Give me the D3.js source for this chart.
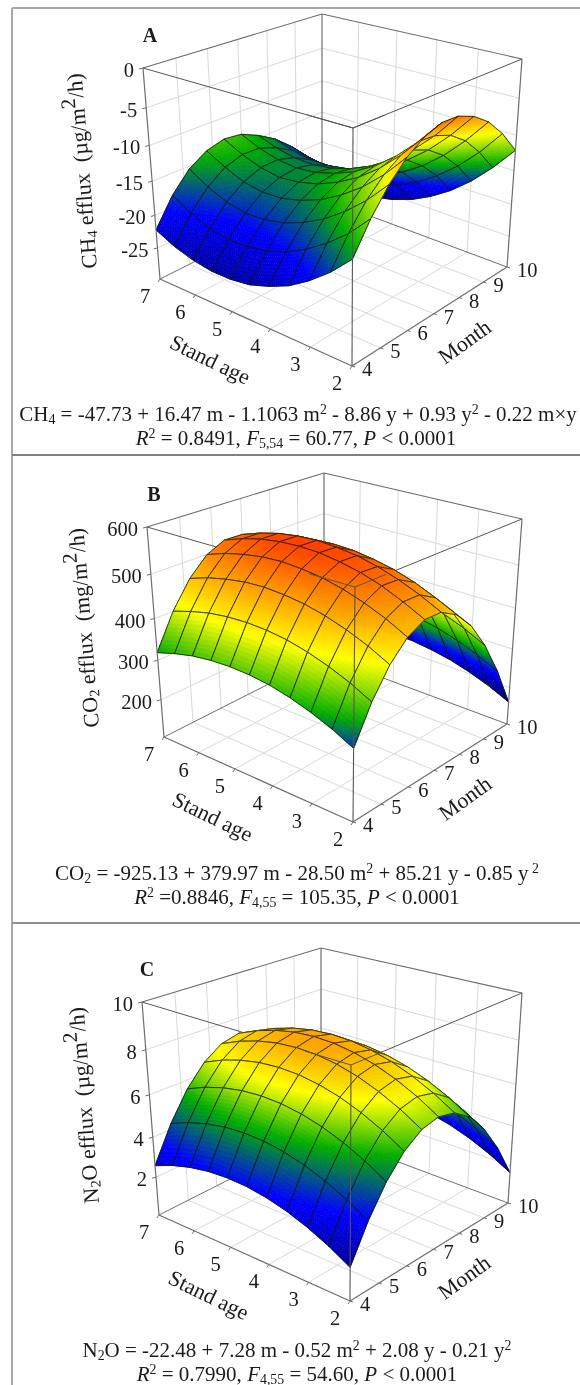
<!DOCTYPE html>
<html>
<head>
<meta charset="utf-8">
<script src="https://cdnjs.cloudflare.com/ajax/libs/d3/7.8.5/d3.min.js"></script>
<style>
  html, body { margin: 0; padding: 0; background: #fff; }
  text { font-family: "Liberation Serif", "Times New Roman", serif; fill: #1a1a1a; }
</style>
</head>
<body>
<script>
// Grid of the surfaces, rows follow standAges, columns follow months.
const standAges = [2, 2.5, 3, 3.5, 4, 4.5, 5, 5.5, 6, 6.5, 7];
const months = [4, 4.6, 5.2, 5.8, 6.4, 7, 7.6, 8.2, 8.8, 9.4, 10];

const ch4Efflux = [
  [-15.3, -11.4, -8.3, -6.0, -4.5, -3.7, -3.8, -4.7, -6.3, -8.8, -12.1],
  [-18.1, -14.3, -11.2, -9.0, -7.5, -6.8, -7.0, -7.9, -9.6, -12.2, -15.5],
  [-20.4, -16.6, -13.6, -11.5, -10.1, -9.5, -9.7, -10.7, -12.5, -15.1, -18.5],
  [-22.3, -18.5, -15.6, -13.5, -12.2, -11.7, -11.9, -13.0, -14.9, -17.5, -21.0],
  [-23.6, -20.0, -17.1, -15.1, -13.8, -13.4, -13.7, -14.9, -16.8, -19.5, -23.0],
  [-24.6, -21.0, -18.2, -16.2, -15.0, -14.6, -15.0, -16.2, -18.2, -21.0, -24.6],
  [-25.0, -21.5, -18.8, -16.9, -15.7, -15.4, -15.9, -17.1, -19.2, -22.1, -25.7],
  [-25.0, -21.6, -18.9, -17.0, -16.0, -15.7, -16.3, -17.6, -19.7, -22.6, -26.4],
  [-24.5, -21.1, -18.3, -16.5, -15.5, -15.4, -16.2, -17.6, -19.8, -22.8, -26.5],
  [-23.6, -19.8, -17.1, -15.3, -14.5, -14.6, -15.6, -17.1, -19.3, -22.4, -26.3],
  [-22.2, -18.2, -15.4, -13.8, -13.1, -13.4, -14.6, -16.2, -18.5, -21.6, -25.5]
];

const co2Efflux = [
  [275, 356, 416, 456, 476, 475, 453, 411, 348, 265, 161],
  [299, 380, 440, 480, 499, 498, 476, 434, 372, 288, 185],
  [318, 399, 459, 499, 519, 517, 496, 453, 391, 308, 204],
  [333, 414, 474, 514, 534, 532, 511, 468, 406, 323, 219],
  [344, 425, 485, 525, 544, 543, 521, 479, 416, 333, 229],
  [350, 431, 491, 531, 551, 549, 528, 486, 423, 340, 236],
  [352, 433, 494, 534, 553, 552, 530, 488, 425, 342, 238],
  [350, 431, 492, 532, 551, 550, 528, 486, 423, 340, 236],
  [344, 425, 485, 525, 545, 544, 522, 480, 417, 334, 230],
  [333, 414, 475, 515, 534, 533, 511, 469, 406, 323, 219],
  [319, 400, 460, 500, 519, 518, 497, 454, 392, 308, 205]
];

const n2oEfflux = [
  [1.64, 3.33, 4.64, 5.57, 6.13, 6.32, 6.13, 5.58, 4.63, 3.32, 1.64],
  [2.21, 3.90, 5.21, 6.14, 6.70, 6.89, 6.70, 6.15, 5.20, 3.89, 2.21],
  [2.67, 4.36, 5.67, 6.60, 7.16, 7.35, 7.16, 6.61, 5.66, 4.35, 2.67],
  [3.03, 4.72, 6.03, 6.96, 7.52, 7.71, 7.52, 6.97, 6.02, 4.71, 3.03],
  [3.28, 4.97, 6.28, 7.21, 7.77, 7.96, 7.77, 7.22, 6.27, 4.96, 3.28],
  [3.43, 5.12, 6.43, 7.36, 7.92, 8.11, 7.92, 7.37, 6.42, 5.11, 3.43],
  [3.47, 5.16, 6.47, 7.40, 7.96, 8.15, 7.96, 7.41, 6.46, 5.15, 3.47],
  [3.41, 5.10, 6.41, 7.34, 7.90, 8.09, 7.90, 7.35, 6.40, 5.09, 3.41],
  [3.24, 4.93, 6.24, 7.17, 7.73, 7.92, 7.73, 7.18, 6.23, 4.92, 3.24],
  [2.97, 4.66, 5.97, 6.90, 7.46, 7.65, 7.46, 6.91, 5.96, 4.65, 2.97],
  [2.59, 4.28, 5.59, 6.52, 7.08, 7.27, 7.08, 6.53, 5.58, 4.27, 2.59]
];

const ageTicks = [7, 6, 5, 4, 3, 2];
const monthTicks = [4, 5, 6, 7, 8, 9, 10];
const ch4Ticks = [0, -5, -10, -15, -20, -25];
const co2Ticks = [600, 500, 400, 300, 200];
const n2oTicks = [10, 8, 6, 4, 2];

const ch4Domain = [-30, 0];
const co2Domain = [100, 600];
const n2oDomain = [0, 10];

// Text with sub/superscripts: [string, kind]
const ch4Title = [['CH'], ['4', 'sub'], [' efflux  (µg/m'], ['2', 'up'], ['/h)']];
const co2Title = [['CO'], ['2', 'sub'], [' efflux  (mg/m'], ['2', 'up'], ['/h)']];
const n2oTitle = [['N'], ['2', 'sub'], ['O efflux  (µg/m'], ['2', 'up'], ['/h)']];

const ch4Equation = [['CH'], ['4', 'sub'], [' = -47.73 + 16.47 m - 1.1063 m'], ['2', 'sup'], [' - 8.86 y + 0.93 y'], ['2', 'sup'], [' - 0.22 m×y']];
const ch4Stats = [['R', 'i'], ['2', 'sup'], [' = 0.8491, '], ['F', 'i'], ['5,54', 'sub'], [' = 60.77, '], ['P', 'i'], [' < 0.0001']];
const co2Equation = [['CO'], ['2', 'sub'], [' = -925.13 + 379.97 m - 28.50 m'], ['2', 'sup'], [' + 85.21 y - 0.85 y'], [' 2', 'sup']];
const co2Stats = [['R', 'i'], ['2', 'sup'], [' =0.8846, '], ['F', 'i'], ['4,55', 'sub'], [' = 105.35, '], ['P', 'i'], [' < 0.0001']];
const n2oEquation = [['N'], ['2', 'sub'], ['O = -22.48 + 7.28 m - 0.52 m'], ['2', 'sup'], [' + 2.08 y - 0.21 y'], ['2', 'sup']];
const n2oStats = [['R', 'i'], ['2', 'sup'], [' = 0.7990, '], ['F', 'i'], ['4,55', 'sub'], [' = 54.60, '], ['P', 'i'], [' < 0.0001']];

// Blue to red ramp, each panel has its own z stops.
const rampColors = ['#00006e', '#0000ff', '#00ad00', '#ffff00', '#ff9a00', '#ff3000'];

const width = 580;
const height = 1385;
const cellSteps = 10;

// Box corners on the page: left / front / right / back, top and bottom.
const panels = [
  {
    letter: 'A', letterPos: [150, 42], values: ch4Efflux, domain: ch4Domain, ticks: ch4Ticks,
    stops: [-28, -20, -14.5, -8.5, -5, -2],
    box: { lt: [143, 68], lb: [160, 279], ft: [353, 128], fb: [352, 366], rt: [522, 59], rb: [507, 267], bt: [322, 14], bb: [322, 198] },
    title: ch4Title, titlePos: [97, 268], equation: ch4Equation, eqPos: [298, 421], stats: ch4Stats, statsPos: [296, 445]
  },
  {
    letter: 'B', letterPos: [154, 501], values: co2Efflux, domain: co2Domain, ticks: co2Ticks,
    stops: [170, 255, 320, 415, 490, 565],
    box: { lt: [147, 527], lb: [164, 737], ft: [355, 587], fb: [353, 822], rt: [522, 519], rb: [507, 724], bt: [324, 473], bb: [324, 656] },
    title: co2Title, titlePos: [99, 727], equation: co2Equation, eqPos: [297, 880], stats: co2Stats, statsPos: [297, 904]
  },
  {
    letter: 'C', letterPos: [147, 976], values: n2oEfflux, domain: n2oDomain, ticks: n2oTicks,
    stops: [1, 3.4, 5.4, 6.9, 8.2, 10],
    box: { lt: [142, 1002], lb: [159, 1215], ft: [351, 1065], fb: [350, 1301], rt: [522, 993], rb: [508, 1203], bt: [321, 948], bb: [321, 1133] },
    title: n2oTitle, titlePos: [99, 1203], equation: n2oEquation, eqPos: [297, 1356.5], stats: n2oStats, statsPos: [297, 1380.5]
  }
];

const svg = d3.select('body')
  .append('svg')
  .attr('width', width)
  .attr('height', height)
  .style('display', 'block');

svg.append('defs').append('filter')
  .attr('id', 'soft')
  .attr('x', 0).attr('y', 0).attr('width', 1).attr('height', 1)
  .attr('filterUnits', 'objectBoundingBox')
  .append('feGaussianBlur')
  .attr('stdDeviation', 0.4);

const root = svg.append('g').attr('filter', 'url(#soft)');

// white rect so the blur region spans the whole page
root.append('rect').attr('width', width).attr('height', height).attr('fill', '#fff');

const ageScale = d3.scaleLinear().domain([2, 7]).range([0, 1]);
const monthScale = d3.scaleLinear().domain([4, 10]).range([0, 1]);

// Perspective blend of the eight box corners; u = age, v = month, w = height.
const makeProjection = (box, zScale) => {
  const corners = [
    [box.fb, 0, 0, 0], [box.ft, 0, 0, 1],
    [box.rb, 0, 1, 0], [box.rt, 0, 1, 1],
    [box.lb, 1, 0, 0], [box.lt, 1, 0, 1],
    [box.bb, 1, 1, 0], [box.bt, 1, 1, 1]
  ];
  return (age, month, z) => {
    const u = ageScale(age);
    const v = monthScale(month);
    const w = zScale(z);
    let sx = 0, sy = 0, sw = 0;
    corners.forEach(([p, a, b, c]) => {
      const depth = 1 + 0.13 * a + 0.14 * b + 0.18 * (1 - c);
      const k = (a ? u : 1 - u) * (b ? v : 1 - v) * (c ? w : 1 - w) * depth;
      sx += k * p[0];
      sy += k * p[1];
      sw += k;
    });
    return [sx / sw, sy / sw];
  };
};

const polyPath = pts => 'M' + pts.map(p => p[0].toFixed(2) + ',' + p[1].toFixed(2)).join('L') + 'Z';

const richText = (g, segments, size) => {
  const text = g.append('text').attr('font-size', size);
  segments.forEach(([str, kind]) => {
    const span = text.append('tspan').text(str).style('white-space', 'pre');
    if (kind === 'i') span.attr('font-style', 'italic');
    if (kind === 'sub') span.attr('font-size', size * 0.66).attr('baseline-shift', -size * 0.12);
    if (kind === 'sup') span.attr('font-size', size * 0.66).attr('baseline-shift', size * 0.34);
    if (kind === 'up') span.attr('font-size', size * 0.95).attr('baseline-shift', size * 0.4);
  });
  return text;
};

const drawPanel = (panel) => {
  const g = root.append('g');
  const zScale = d3.scaleLinear().domain(panel.domain).range([0, 1]);
  const project = makeProjection(panel.box, zScale);
  const color = d3.scaleLinear().domain(panel.stops).range(rampColors).clamp(true);
  const [zMin, zMax] = panel.domain;
  const [ageMin, ageMax] = d3.extent(ageTicks);
  const [monthMin, monthMax] = d3.extent(monthTicks);

  const line3d = (target, a, b, stroke, strokeWidth) => {
    const p = project(...a), q = project(...b);
    target.append('line')
      .attr('x1', p[0]).attr('y1', p[1]).attr('x2', q[0]).attr('y2', q[1])
      .attr('stroke', stroke).attr('stroke-width', strokeWidth);
  };

  // back walls and floor grid
  const grid = g.append('g');
  const gridColor = '#d9d9d9';
  panel.ticks.forEach(z => {
    if (z === zMax) return;
    line3d(grid, [ageMax, monthMin, z], [ageMax, monthMax, z], gridColor, 1);
    line3d(grid, [ageMax, monthMax, z], [ageMin, monthMax, z], gridColor, 1);
  });
  monthTicks.slice(1, -1).forEach(m => {
    line3d(grid, [ageMax, m, zMin], [ageMax, m, zMax], gridColor, 1);
    line3d(grid, [ageMax, m, zMin], [ageMin, m, zMin], gridColor, 1);
  });
  ageTicks.slice(1, -1).forEach(a => {
    line3d(grid, [a, monthMax, zMin], [a, monthMax, zMax], gridColor, 1);
    line3d(grid, [a, monthMin, zMin], [a, monthMax, zMin], gridColor, 1);
  });

  // box edges behind the surface
  const frameColor = '#6e6e6e';
  const back = g.append('g');
  line3d(back, [ageMax, monthMax, zMin], [ageMax, monthMax, zMax], frameColor, 1.2);
  line3d(back, [ageMax, monthMin, zMax], [ageMax, monthMax, zMax], frameColor, 1.1);
  line3d(back, [ageMin, monthMax, zMax], [ageMax, monthMax, zMax], frameColor, 1.1);
  line3d(back, [ageMax, monthMin, zMin], [ageMax, monthMax, zMin], frameColor, 1);
  line3d(back, [ageMin, monthMax, zMin], [ageMax, monthMax, zMin], frameColor, 1);
  line3d(back, [ageMax, monthMin, zMax], [ageMin, monthMin, zMax], '#555', 1);
  line3d(back, [ageMin, monthMin, zMax], [ageMin, monthMax, zMax], '#555', 1);

  // surface, painted from the far corner to the near one
  const surface = g.append('g');
  const at = (i, j, s, t) => {
    const z0 = panel.values[i][j] + (panel.values[i][j + 1] - panel.values[i][j]) * t;
    const z1 = panel.values[i + 1][j] + (panel.values[i + 1][j + 1] - panel.values[i + 1][j]) * t;
    return [
      standAges[i] + (standAges[i + 1] - standAges[i]) * s,
      months[j] + (months[j + 1] - months[j]) * t,
      z0 + (z1 - z0) * s
    ];
  };
  const stepsList = d3.range(cellSteps).reverse();
  for (let i = standAges.length - 2; i >= 0; i--) {
    for (let j = months.length - 2; j >= 0; j--) {
      stepsList.forEach(a => stepsList.forEach(b => {
        const s0 = a / cellSteps, s1 = (a + 1) / cellSteps;
        const t0 = b / cellSteps, t1 = (b + 1) / cellSteps;
        const mid = at(i, j, (s0 + s1) / 2, (t0 + t1) / 2);
        const fill = color(mid[2]);
        surface.append('path')
          .attr('d', polyPath([[s0, t0], [s0, t1], [s1, t1], [s1, t0]].map(c => project(...at(i, j, c[0], c[1])))))
          .attr('fill', fill)
          .attr('stroke', fill)
          .attr('stroke-width', 0.7);
      }));
      const border = [];
      d3.range(cellSteps + 1).forEach(k => border.push(at(i, j, 0, k / cellSteps)));
      d3.range(cellSteps + 1).forEach(k => border.push(at(i, j, k / cellSteps, 1)));
      d3.range(cellSteps + 1).forEach(k => border.push(at(i, j, 1, 1 - k / cellSteps)));
      d3.range(cellSteps + 1).forEach(k => border.push(at(i, j, 1 - k / cellSteps, 0)));
      surface.append('path')
        .attr('d', polyPath(border.map(c => project(...c))))
        .attr('fill', 'none')
        .attr('stroke', '#101a08')
        .attr('stroke-opacity', 0.85)
        .attr('stroke-width', 1);
    }
  }

  // box edges in front; the top ones only show over the surface near the corner
  const front = g.append('g');
  line3d(front, [ageMin, monthMin, zMin], [ageMin, monthMin, zMax], '#555', 1.1);
  line3d(front, [3, monthMin, zMax], [ageMin, monthMin, zMax], '#555', 1);
  line3d(front, [ageMin, monthMin, zMax], [ageMin, 5, zMax], '#555', 1);
  line3d(front, [ageMax, monthMin, zMin], [ageMax, monthMin, zMax], frameColor, 1.2);
  line3d(front, [ageMin, monthMax, zMin], [ageMin, monthMax, zMax], frameColor, 1.2);
  line3d(front, [ageMax, monthMin, zMin], [ageMin, monthMin, zMin], frameColor, 1.2);
  line3d(front, [ageMin, monthMin, zMin], [ageMin, monthMax, zMin], frameColor, 1.2);

  // ticks and tick labels
  const labels = g.append('g').attr('font-size', 20.5);
  panel.ticks.forEach(z => {
    const p = project(ageMax, monthMin, z);
    labels.append('line')
      .attr('x1', p[0]).attr('y1', p[1]).attr('x2', p[0] - 4).attr('y2', p[1] + 1)
      .attr('stroke', frameColor);
    labels.append('text')
      .attr('x', p[0] - 9).attr('y', p[1] + 9)
      .attr('text-anchor', 'end')
      .text(z);
  });
  ageTicks.forEach(a => {
    const p = project(a, monthMin, zMin);
    labels.append('line')
      .attr('x1', p[0]).attr('y1', p[1]).attr('x2', p[0] - 2).attr('y2', p[1] + 3)
      .attr('stroke', frameColor);
    labels.append('text')
      .attr('x', p[0] - 15).attr('y', p[1] + 24)
      .attr('text-anchor', 'middle')
      .text(a);
  });
  monthTicks.forEach(m => {
    const p = project(ageMin, m, zMin);
    labels.append('line')
      .attr('x1', p[0]).attr('y1', p[1]).attr('x2', p[0] + 3).attr('y2', p[1] + 1)
      .attr('stroke', frameColor);
    labels.append('text')
      .attr('x', p[0] + 10).attr('y', p[1] + 10)
      .text(m);
  });

  // axis titles follow the box edges
  const ageMid = project(4.5, monthMin, zMin);
  g.append('text')
    .attr('transform', `translate(${ageMid[0] - 44},${ageMid[1] + 46}) rotate(26)`)
    .attr('text-anchor', 'middle')
    .attr('font-size', 22)
    .text('Stand age');
  const monthMid = project(ageMin, 7, zMin);
  g.append('text')
    .attr('transform', `translate(${monthMid[0] + 35},${monthMid[1] + 34}) rotate(-36)`)
    .attr('text-anchor', 'middle')
    .attr('font-size', 22)
    .text('Month');

  const yTitle = richText(g, panel.title, 22);
  yTitle.attr('transform', `translate(${panel.titlePos[0]},${panel.titlePos[1]}) rotate(-94.5)`);

  g.append('text')
    .attr('x', panel.letterPos[0]).attr('y', panel.letterPos[1])
    .attr('text-anchor', 'middle')
    .attr('font-weight', 'bold')
    .attr('font-size', 20)
    .text(panel.letter);

  richText(g, panel.equation, 21)
    .attr('x', panel.eqPos[0]).attr('y', panel.eqPos[1])
    .attr('text-anchor', 'middle');
  richText(g, panel.stats, 21)
    .attr('x', panel.statsPos[0]).attr('y', panel.statsPos[1])
    .attr('text-anchor', 'middle');
};

panels.forEach(drawPanel);

// page frame
const frame = root.append('g').attr('stroke', '#a8a8a8').attr('stroke-width', 2);
frame.append('line').attr('x1', 12).attr('x2', 12).attr('y1', 8).attr('y2', height);
frame.append('line').attr('x1', 12).attr('x2', width).attr('y1', 8).attr('y2', 8);
frame.append('line').attr('x1', 12).attr('x2', width).attr('y1', 455).attr('y2', 455).attr('stroke', '#808080');
frame.append('line').attr('x1', 12).attr('x2', width).attr('y1', 923).attr('y2', 923).attr('stroke', '#909090');
</script>
</body>
</html>
